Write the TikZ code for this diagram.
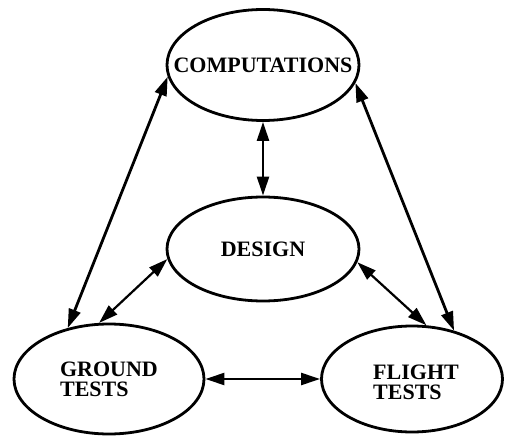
\documentclass[tikz,border=0pt]{standalone}
\usepackage{fontspec}
\setmainfont{Liberation Serif}
\usepackage{tikz}
\usetikzlibrary{arrows.meta,shapes.geometric}

\begin{document}
\begin{tikzpicture}[x=1pt, y=-1pt,
  oval/.style={ellipse, draw, line width=2.8pt, inner sep=0pt},
  tag/.style={font=\fontsize{22}{20}\selectfont\bfseries, align=left},
  link/.style={{Triangle[length=19pt,width=12pt]}-{Triangle[length=19pt,width=12pt]}, line width=2.2pt},
  longlink/.style={link, line width=2.8pt}]
\useasboundingbox (0,0) rectangle (507,436);
\node (comp) at (263, 65) [oval, minimum width=192pt, minimum height=111pt] {};
\node (design) at (263, 249) [oval, minimum width=192pt, minimum height=104pt] {};
\node (ground) at (109, 379) [oval, minimum width=190pt, minimum height=110pt] {};
\node (flight) at (412, 379) [oval, minimum width=181pt, minimum height=106pt] {};
\node at (comp) [tag] {COMPUTATIONS};
\node at (design) [tag] {DESIGN};
\node at (ground) [tag] {GROUND\\TESTS};
\node at (416, 382) [tag] {FLIGHT\\TESTS};
\draw [link] (comp.south) -- (design.north);
\draw [longlink] (comp.187) -- (ground.129);
\draw [longlink] (comp.349) -- (flight.49);
\draw [link] (design.186) -- (ground.100);
\draw [link] (design.352) -- (flight.75);
\draw [link] (ground.east) -- (flight.west);
\end{tikzpicture}
\end{document}
